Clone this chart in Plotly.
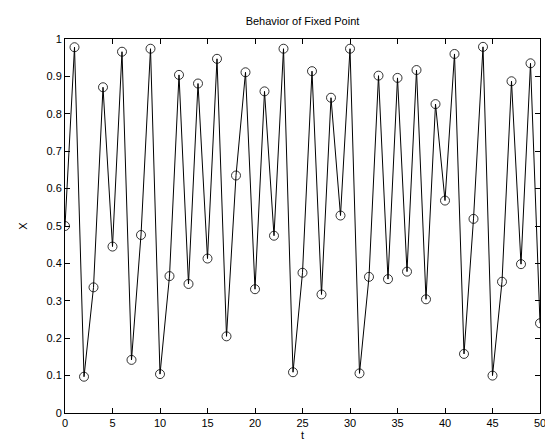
import plotly.graph_objects as go

t = list(range(51))
x = [0.500, 0.978, 0.097, 0.336, 0.871, 0.445, 0.966, 0.142, 0.476, 0.974,
     0.104, 0.366, 0.904, 0.345, 0.881, 0.413, 0.947, 0.205, 0.635, 0.911,
     0.331, 0.860, 0.474, 0.974, 0.109, 0.375, 0.914, 0.317, 0.843, 0.528,
     0.974, 0.106, 0.364, 0.902, 0.358, 0.896, 0.378, 0.917, 0.304, 0.826,
     0.568, 0.960, 0.158, 0.519, 0.979, 0.100, 0.351, 0.887, 0.398, 0.935,
     0.240]

xticks = list(range(0, 51, 5))
yticks = [i / 10 for i in range(11)]
ytext = ["0", "0.1", "0.2", "0.3", "0.4", "0.5", "0.6", "0.7", "0.8", "0.9", "1"]

font = dict(family="Liberation Sans, Arial, sans-serif", size=11, color="black")

fig = go.Figure(go.Scatter(
    x=t, y=x, mode="lines+markers",
    line=dict(color="black", width=1),
    marker=dict(symbol="circle-open", size=9, color="black", line=dict(width=0.8)),
))

fig.update_layout(
    width=553, height=443,
    margin=dict(l=57, r=21, t=31, b=38),
    paper_bgcolor="white", plot_bgcolor="white",
    font=font, showlegend=False,
    title=dict(text="Behavior of Fixed Point", x=0.5, xanchor="center",
               xref="paper", yref="container", y=1 - 13 / 443, yanchor="middle",
               font=font),
)
axis_common = dict(showline=True, linecolor="black", linewidth=1, mirror="ticks",
                   ticks="inside", ticklen=5, tickcolor="black", showgrid=False,
                   zeroline=False, tickfont=font, automargin=False)
fig.update_xaxes(range=[0, 50], tickvals=xticks, title=dict(text="t", standoff=2, font=font),
                 **axis_common)
fig.update_yaxes(range=[0, 1], tickvals=yticks, ticktext=ytext,
                 title=dict(text="X", standoff=16, font=font), **axis_common)

fig.write_html("out.html")
